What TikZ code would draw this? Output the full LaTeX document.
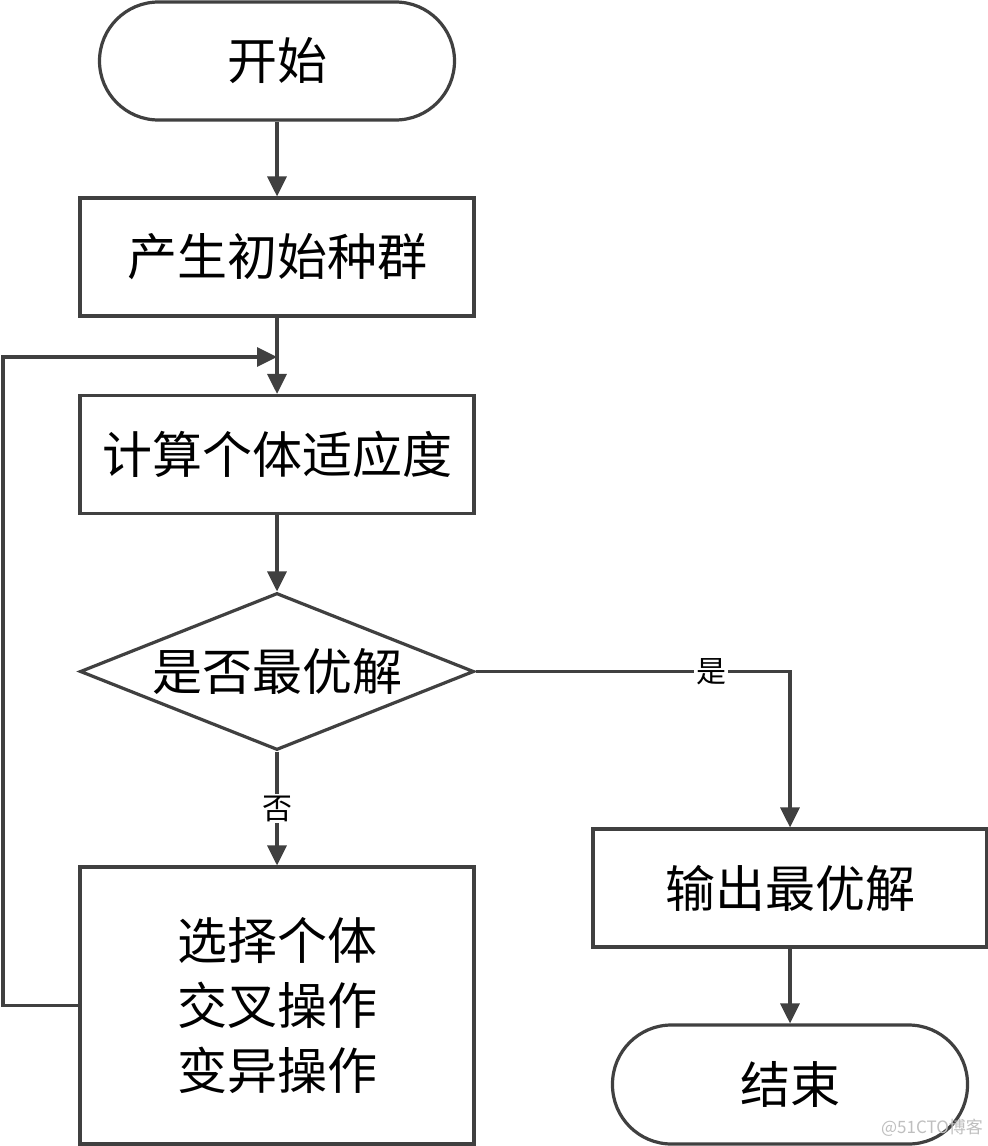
\documentclass[tikz,border=0pt]{standalone}
\usepackage{fontspec}
\setmainfont{Noto Sans CJK SC}
\newfontfamily\cjk{Noto Sans CJK SC}
\usetikzlibrary{arrows.meta,shapes.geometric,positioning}
\definecolor{lc}{HTML}{404040}
\tikzset{
  base/.style={draw=lc, line width=3.2pt, inner sep=0pt, font=\cjk\fontsize{50pt}{65pt}\selectfont, text=black},
  procbox/.style={base, rectangle, minimum width=394pt, minimum height=118pt},
  termbox/.style={base, rectangle, rounded corners=59pt, minimum width=355pt, minimum height=118pt},
  decbox/.style={base, diamond, aspect=2.5, minimum width=394pt, minimum height=157pt},
  conn/.style={draw=lc, line width=3.2pt, -{Triangle[length=20pt,width=19pt]}},
  lbl/.style={fill=white, inner sep=2pt, font=\cjk\fontsize{30pt}{30pt}\selectfont, text=black}
}
\begin{document}
\begin{tikzpicture}[x=1pt,y=-1pt]
\fill[white] (0,0) rectangle (988,1146);
\useasboundingbox (0,0) rectangle (988,1146);
\node[termbox] (start) at (277,61) {开始};
\node[procbox] (b1) at (277,257) {产生初始种群};
\node[procbox] (b2) at (277,454.5) {计算个体适应度};
\node[decbox] (d) at (277,671.5) {是否最优解};
\node[procbox, minimum height=277pt, align=center] (b3) at (277,1005.5) {选择个体\\交叉操作\\变异操作};
\node[procbox] (b4) at (790,888) {输出最优解};
\node[termbox, minimum height=119pt] (end) at (790,1084.5) {结束};
\coordinate (loopin) at (277,357);
\coordinate (loopbot) at (3,1005.5);
\coordinate (looptop) at (3,357);
\draw[conn] (start) -- (b1);
\draw[conn] (b1) -- (b2);
\draw[conn] (b2) -- (d);
\draw[conn] (d.south) -- node[lbl] {否} (b3.north);
\draw[conn] (d.east) -| node[lbl, pos=0.375] {是} (b4.north);
\draw[conn] (b4) -- (end);
\draw[conn] (b3.west) -- (loopbot) -- (looptop) -- (loopin);
\node[font=\cjk\fontsize{17pt}{17pt}\selectfont, text=black!25] (wm) at (932,1128) {@51CTO博客};
\end{tikzpicture}
\end{document}
